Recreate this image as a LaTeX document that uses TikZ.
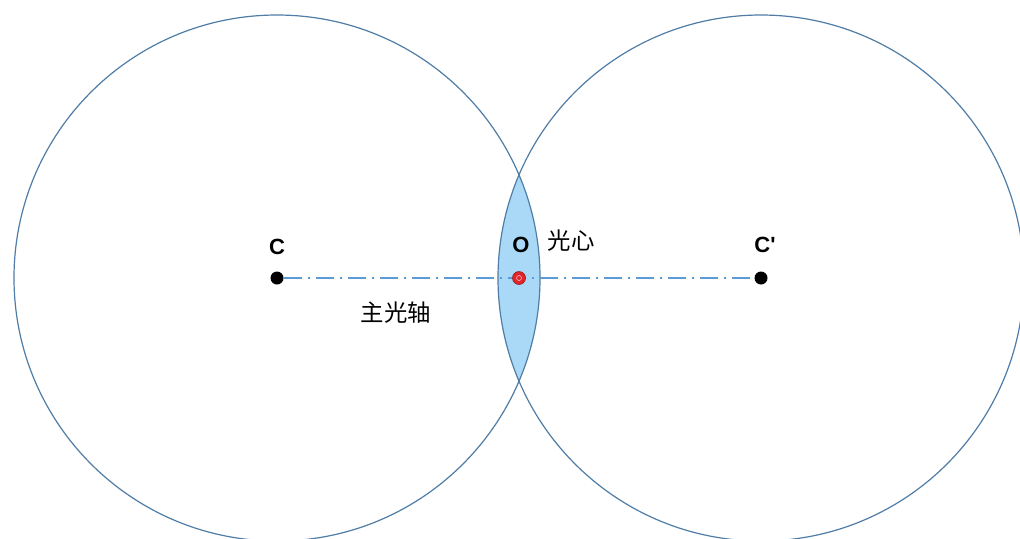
\documentclass[tikz,border=0pt]{standalone}
\usepackage{fontspec}
\setmainfont{Noto Sans CJK SC}
\newfontfamily\latinf{Liberation Sans}
\usepackage{xcolor}
\usetikzlibrary{positioning}
\definecolor{rimc}{HTML}{4F7DA6}
\definecolor{lensc}{HTML}{A9D9F6}
\definecolor{axisc}{HTML}{5B9BD5}
\definecolor{dotc}{HTML}{E0262B}
\tikzset{
  rim/.style={draw=rimc,line width=0.6pt},
  ctr/.style={circle,fill=black,minimum size=6.5pt,inner sep=0pt},
  lbl/.style={font=\latinf\fontsize{11}{13}\selectfont\bfseries,inner sep=1pt},
  cjk/.style={font=\fontsize{11.7}{14}\selectfont,inner sep=1pt}
}

\begin{document}
\begin{tikzpicture}[x=0.5pt,y=-0.5pt]
\useasboundingbox (0,0) rectangle (1020,538);
\clip (0,0) rectangle (1020,538);
\fill[white] (0,0) rectangle (1020,538);
% lens between the two spheres
\begin{scope}
\clip (277,278) circle (263);
\fill[lensc] (761,278) circle (263);
\end{scope}
\draw[rim] (277,278) circle (263);
\draw[rim] (761,278) circle (263);
% centres and optical centre
\node[ctr] (C) at (277,278) {};
\node[ctr] (Cp) at (761,278) {};
\draw[axisc,line width=0.7pt,dash pattern=on 9pt off 3pt on 1pt off 3pt] (C) -- (Cp);
\node[circle,fill=dotc,draw=dotc!70!black,line width=0.3pt,minimum size=6.5pt,inner sep=0pt] (O) at (519,278) {};
\draw[white!70!dotc,line width=0.3pt] (O.center) circle (2.5);
\node[lbl,above=7pt of C] (Cl) {C};
\node[lbl,above=8pt of Cp,xshift=2pt] (Cpl) {C\char"0027};
\node[lbl,above=8pt of O,xshift=1pt] (Ol) {O};
\node[cjk] (oc) at (571,241) {光心};
\node[cjk] (ax) at (396,313) {主光轴};
\end{tikzpicture}
\end{document}
